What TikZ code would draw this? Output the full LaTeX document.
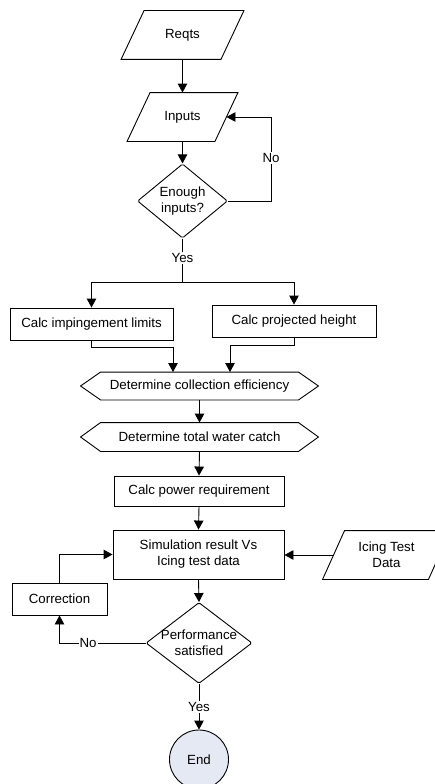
\documentclass[tikz,border=0pt]{standalone}
\usepackage{fontspec}
\setmainfont{Liberation Sans}
\usetikzlibrary{shapes.geometric,arrows.meta,calc}
\definecolor{endfill}{RGB}{229,233,244}
\tikzset{
  box/.style={draw, rectangle, inner sep=0pt, align=center},
  ghost/.style={rectangle, inner sep=0pt, align=center},
  dia/.style={draw, diamond, inner sep=0pt, align=center, rounded corners=1.5pt},
  arr/.style={-{Triangle[length=9pt,width=9.5pt]}},
  lbl/.style={fill=white, inner sep=1pt},
}
\begin{document}
\begin{tikzpicture}[x=1pt,y=-1pt, line width=0.9pt, font=\fontsize{13.3}{16}\selectfont]
\useasboundingbox (0,0) rectangle (435,784);

% parallelograms
\node[ghost, minimum width=99pt, minimum height=48pt] (reqts) at (182.5,35) {Reqts};
\draw ([xshift=11.5pt]reqts.north west) -- ([xshift=11.5pt]reqts.north east) -- ([xshift=-11.5pt]reqts.south east) -- ([xshift=-11.5pt]reqts.south west) -- cycle;

\node[ghost, minimum width=87pt, minimum height=48pt] (inputs) at (182.5,117) {Inputs};
\draw ([xshift=11.5pt]inputs.north west) -- ([xshift=11.5pt]inputs.north east) -- ([xshift=-11.5pt]inputs.south east) -- ([xshift=-11.5pt]inputs.south west) -- cycle;

\node[ghost, minimum width=105pt, minimum height=48pt] (icing) at (386.5,555) {Icing Test\\Data};
\draw ([xshift=11pt]icing.north west) -- ([xshift=11pt]icing.north east) -- ([xshift=-11pt]icing.south east) -- ([xshift=-11pt]icing.south west) -- cycle;

% diamonds
\node[dia, minimum width=90pt, minimum height=69pt] (d1) at (182.5,201) {Enough\\inputs?};
\node[dia, minimum width=106pt, minimum height=81pt,
      label={[align=center]center:Performance\\satisfied}] (d2) at (199,643) {};

% rectangles
\node[box, minimum width=163pt, minimum height=32pt] (imp) at (91.5,324) {Calc impingement limits};
\node[box, minimum width=164pt, minimum height=32pt] (proj) at (294,321) {Calc projected height};
\node[box, minimum width=170pt, minimum height=30pt] (power) at (199,491) {Calc power requirement};
\node[box, minimum width=171pt, minimum height=49pt] (sim) at (198.5,554.5) {Simulation result Vs\\Icing test data};
\node[box, minimum width=95pt, minimum height=32pt] (corr) at (59.5,599) {Correction};

% hexagons
\node[ghost, minimum width=237pt, minimum height=27pt] (hex1) at (199.5,386) {Determine collection efficiency};
\draw (hex1.west) -- ([xshift=20pt]hex1.north west) -- ([xshift=-20pt]hex1.north east) -- (hex1.east) -- ([xshift=-20pt]hex1.south east) -- ([xshift=20pt]hex1.south west) -- cycle;
\node[ghost, minimum width=237pt, minimum height=28pt] (hex2) at (199.5,437) {Determine total water catch};
\draw (hex2.west) -- ([xshift=20pt]hex2.north west) -- ([xshift=-20pt]hex2.north east) -- (hex2.east) -- ([xshift=-20pt]hex2.south east) -- ([xshift=20pt]hex2.south west) -- cycle;

% end
\node[draw, circle, fill=endfill, minimum size=59pt, inner sep=0pt] (end) at (199,759.5) {End};

% coordinates
\coordinate (fb) at (271,117);
\coordinate (br) at (182.5,282);
\coordinate (j1) at (173,347);
\coordinate (j2) at (230,345);

% connectors
\draw[arr] (reqts.south) -- (inputs.north);
\draw[arr] (inputs.south) -- (d1.north);
\draw[arr] (d1.east) -| (fb) -- (inputs.east);
\node[lbl] (no1) at (271,158) {No};
\draw (d1.south) -- (br);
\node[lbl] (yes1) at (182.5,258) {Yes};
\draw[arr] (br) -| (imp.north);
\draw[arr] (br) -| (proj.north);
\draw[arr] (imp.south) |- (j1) -- (j1 |- hex1.north);
\draw[arr] (proj.south) |- (j2) -- (j2 |- hex1.north);
\draw[arr] (hex1.south) -- (hex2.north);
\draw[arr] (hex2.south) -- (power.north);
\draw[arr] (power.south) -- (sim.north);
\draw[arr] (icing.west) -- (icing.west -| sim.east);
\draw[arr] (sim.south) -- (d2.north);
\draw[arr] (d2.west) -| (corr.south);
\node[lbl] (no2) at (88,643) {No};
\draw[arr] (corr.north) |- (sim.west);
\draw[arr] (d2.south) -- (end.north);
\node[lbl] (yes2) at (199,707) {Yes};
\end{tikzpicture}
\end{document}
